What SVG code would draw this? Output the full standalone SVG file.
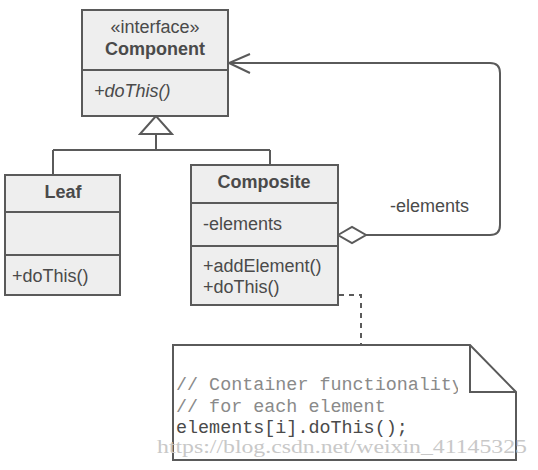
<svg xmlns="http://www.w3.org/2000/svg" width="538" height="470" viewBox="0 0 538 470">
<style>
.box{fill:#eeeeee;stroke:#5a5a5a;stroke-width:2}
.ln{fill:none;stroke:#5a5a5a;stroke-width:2}
.t{font-family:"Liberation Sans",Arial,sans-serif;font-size:18px;fill:#4a4a4a}
.b{font-weight:bold}
.c{text-anchor:middle}
.code{font-family:"Liberation Mono","Courier New",monospace;font-size:18.4px}
</style>
<defs>
<clipPath id="noteclip"><rect x="174" y="346" width="284" height="114"/></clipPath>
</defs>
<rect width="538" height="470" fill="#ffffff"/>
<g id="connectors">
<path class="ln" d="M156,134 V150 M53,150 H270 M53,150 V175 M270,150 V165"/>
<polygon points="156,116 140,134 172,134" fill="#ffffff" stroke="#5a5a5a" stroke-width="2"/>
<path class="ln" d="M366,235 H490 Q500,235 500,225 V73 Q500,63 490,63 H229"/>
<path class="ln" d="M250,54 L229,63 L250,73"/>
<polygon points="338,235 352,227 366,235 352,243" fill="#ffffff" stroke="#5a5a5a" stroke-width="2"/>
<text class="t" x="390" y="212">-elements</text>
<path class="ln" d="M339,295 H361 V345" stroke-dasharray="5,5"/>
</g>
<g id="component">
<rect class="box" x="82" y="10" width="146" height="106"/>
<line class="ln" x1="82" y1="70" x2="228" y2="70"/>
<text class="t c" x="155" y="33">«interface»</text>
<text class="t c b" x="155" y="55">Component</text>
<text class="t" x="94" y="97" font-style="italic">+doThis()</text>
</g>
<g id="leaf">
<rect class="box" x="5" y="175" width="115" height="120"/>
<line class="ln" x1="5" y1="212" x2="120" y2="212"/>
<line class="ln" x1="5" y1="255" x2="120" y2="255"/>
<text class="t c b" x="63" y="198">Leaf</text>
<text class="t" x="12" y="282">+doThis()</text>
</g>
<g id="composite">
<rect class="box" x="191" y="165" width="147" height="140"/>
<line class="ln" x1="191" y1="203" x2="338" y2="203"/>
<line class="ln" x1="191" y1="246" x2="338" y2="246"/>
<text class="t c b" x="264" y="188">Composite</text>
<text class="t" x="203" y="230">-elements</text>
<text class="t" x="203" y="272">+addElement()</text>
<text class="t" x="203" y="293">+doThis()</text>
</g>
<g id="note">
<path d="M173,345 H470 L516,392 V460 H173 Z" fill="#ffffff" stroke="#5a5a5a" stroke-width="2"/>
<path class="ln" d="M470,345 V392 H516"/>
<g clip-path="url(#noteclip)">
<text class="code" x="176" y="390" fill="#8a8a8a">// Container functionality</text>
</g>
<text class="code" x="176" y="412" fill="#8a8a8a">// for each element</text>
<text class="code" x="176" y="433" fill="#4a4a4a">elements[i].doThis();</text>
<text x="157" y="453" font-family="'Liberation Serif','Times New Roman',serif" font-size="18" fill="#c8c8c8" textLength="370" lengthAdjust="spacingAndGlyphs">https://blog.csdn.net/weixin_41145325</text>
</g>
</svg>
